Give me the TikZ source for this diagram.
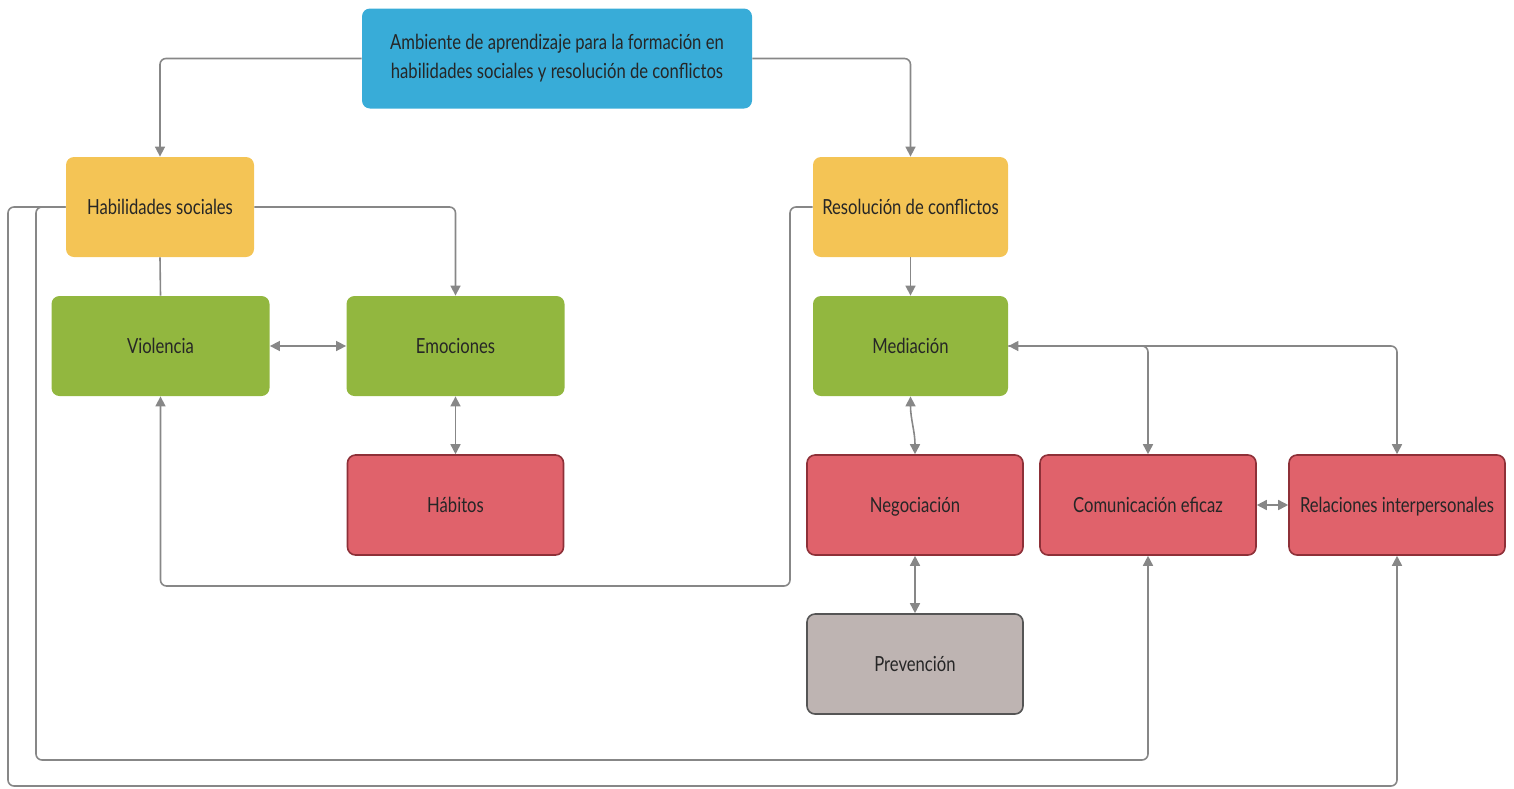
\documentclass[tikz,border=0pt]{standalone}
\usepackage{fontspec}
\setmainfont{Lato}[FakeStretch=0.8]
\usetikzlibrary{arrows.meta, positioning}

\definecolor{cblue}{HTML}{38ACD8}
\definecolor{cyellow}{HTML}{F4C455}
\definecolor{cgreen}{HTML}{92B73F}
\definecolor{cred}{HTML}{E0626B}
\definecolor{credline}{HTML}{8E3038}
\definecolor{cgray}{HTML}{BEB4B2}
\definecolor{cgrayline}{HTML}{555555}
\definecolor{cline}{HTML}{878787}

\tikzset{
  box/.style={rounded corners=4pt, minimum height=50pt, inner sep=2pt,
    text=black!85, font=\fontsize{10.4}{14.5}\selectfont, align=center,
    text height=0.8em, text depth=0.05em},
  topbox/.style={box, fill=cblue, minimum width=195pt, text height=, text depth=},
  mainbox/.style={box, fill=cyellow, minimum width=94pt},
  greenbox/.style={box, fill=cgreen, minimum width=109pt},
  redbox/.style={box, fill=cred, draw=credline, line width=0.8pt, minimum width=108pt},
  graybox/.style={box, fill=cgray, draw=cgrayline, line width=0.8pt, minimum width=108pt},
  link/.style={draw=cline, line width=0.8pt, rounded corners=3pt,
    >={Triangle[width=5pt,length=5pt]}}
}

\begin{document}
\begin{tikzpicture}[x=0.5pt,y=-0.5pt]
	\useasboundingbox (0,0) rectangle (1514,788);

	% boxes
	\node[topbox] (amb) at (557,58.5) {Ambiente de aprendizaje para la formación en\\habilidades sociales y resolución de conflictos};
	\node[mainbox] (hab) at (160,207) {Habilidades sociales};
	\node[mainbox, minimum width=97.5pt] (res) at (910.5,207) {Resolución de conflictos};
	\node[greenbox] (vio) at (160.5,346) {Violencia};
	\node[greenbox] (emo) at (455.5,346) {Emociones};
	\node[greenbox, minimum width=97.5pt] (med) at (910.5,346) {Mediación};
	\node[redbox] (hbt) at (455.5,505) {Hábitos};
	\node[redbox] (neg) at (915,505) {Negociación};
	\node[redbox] (com) at (1148,505) {Comunicación eficaz};
	\node[redbox] (rel) at (1397,505) {Relaciones interpersonales};
	\node[graybox] (pre) at (915,664) {Prevención};

	% links
	\draw[link,->] (amb.west) -| (hab.north);
	\draw[link,->] (amb.east) -| (res.north);
	\draw[link,->] (hab.east) -| (emo.north);
	\draw[link] (hab.south) -- (vio.north);
	\draw[link,<->] (vio) -- (emo);
	\draw[link,<->] (emo.south) -- (hbt.north);
	\draw[link,->] (res.west) -- (790,207) -- (790,586) -| (vio.south);
	\draw[link,->] (res.south) -- (med.north);
	\draw[link,<->] (med.south) to[out=-90,in=90] (neg.north);
	\draw[link,<->] (com.north) |- (med.east);
	\draw[link,->] (med.east) -| (rel.north);
	\draw[link,<->] (com) -- (rel);
	\draw[link,<->] (neg.south) -- (pre.north);
	\draw[link,->] (hab.west) -- (36,207) -- (36,760) -| (com.south);
	\draw[link,->] (hab.west) -- (8,207) -- (8,786) -| (rel.south);
\end{tikzpicture}
\end{document}
